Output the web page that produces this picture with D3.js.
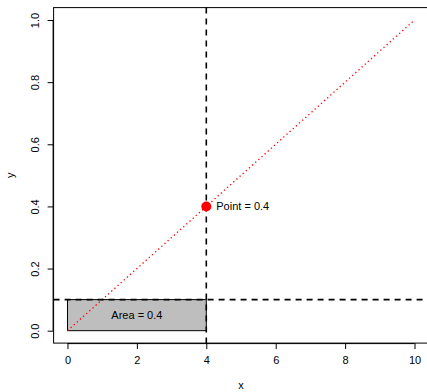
<!DOCTYPE html>
<html>
<head>
<meta charset="utf-8">
<script src="https://cdn.jsdelivr.net/npm/d3@7"></script>
<style>
  body { margin: 0; background: #fff; }
  text { font-family: "Liberation Sans", Arial, sans-serif; }
</style>
</head>
<body>
<svg id="chart" width="427" height="392"></svg>
<script>
// data
var xTicks = [0, 2, 4, 6, 8, 10];
var yTicks = [0, 0.2, 0.4, 0.6, 0.8, 1.0];
var diagLine = [[0, 0], [10, 1]];
var areaRect = {x0: 0, x1: 4, y0: 0, y1: 0.1, label: "Area = 0.4"};
var pointVal = {x: 4, y: 0.4, label: "Point = 0.4"};
var hLineY = 0.1;
var vLineX = 4;

var svg = d3.select("#chart");

// R style 4% axis expansion
var x = d3.scaleLinear().domain([-0.4, 10.4]).range([53.6, 428.4]);
var y = d3.scaleLinear().domain([-0.04, 1.04]).range([343.1, 7.6]);

// rectangle (area)
svg.append("rect")
    .attr("x", x(areaRect.x0))
    .attr("y", y(areaRect.y1))
    .attr("width", x(areaRect.x1) - x(areaRect.x0))
    .attr("height", y(areaRect.y0) - y(areaRect.y1))
    .attr("fill", "#bebebe")
    .attr("stroke", "#000")
    .attr("stroke-width", 1);

svg.append("text")
    .attr("x", x((areaRect.x0 + areaRect.x1) / 2))
    .attr("y", y((areaRect.y0 + areaRect.y1) / 2))
    .attr("dy", "0.35em")
    .attr("text-anchor", "middle")
    .style("font-size", "11px")
    .text(areaRect.label);

// diagonal dotted red line
svg.append("line")
    .attr("x1", x(diagLine[0][0])).attr("y1", y(diagLine[0][1]))
    .attr("x2", x(diagLine[1][0])).attr("y2", y(diagLine[1][1]))
    .attr("stroke", "red")
    .attr("stroke-width", 1.3)
    .attr("stroke-dasharray", "1.3,2.9");

// dashed reference lines
svg.append("line")
    .attr("x1", x.range()[0]).attr("x2", x.range()[1])
    .attr("y1", y(hLineY)).attr("y2", y(hLineY))
    .attr("stroke", "#000")
    .attr("stroke-width", 1.6)
    .attr("stroke-dasharray", "6,5");

svg.append("line")
    .attr("x1", x(vLineX)).attr("x2", x(vLineX))
    .attr("y1", y.range()[1]).attr("y2", y.range()[0])
    .attr("stroke", "#000")
    .attr("stroke-width", 1.6)
    .attr("stroke-dasharray", "6,5");

// point
svg.append("circle")
    .attr("cx", x(pointVal.x))
    .attr("cy", y(pointVal.y))
    .attr("r", 5)
    .attr("fill", "red");

svg.append("text")
    .attr("x", x(pointVal.x) + 10)
    .attr("y", y(pointVal.y))
    .attr("dy", "0.35em")
    .style("font-size", "11px")
    .text(pointVal.label);

// box
svg.append("rect")
    .attr("x", x.range()[0])
    .attr("y", y.range()[1])
    .attr("width", x.range()[1] - x.range()[0])
    .attr("height", y.range()[0] - y.range()[1])
    .attr("fill", "none")
    .attr("stroke", "#000");

// x axis
var xAxis = svg.append("g")
    .attr("transform", "translate(0," + y.range()[0] + ")")
    .call(d3.axisBottom(x).tickValues(xTicks).tickSize(6).tickPadding(7).tickFormat(d3.format("d")));
xAxis.select(".domain").attr("d", "M" + x(xTicks[0]) + ",0.5H" + x(xTicks[xTicks.length - 1]));
xAxis.selectAll("text").style("font-size", "11px").attr("font-family", null);

// y axis
var yAxis = svg.append("g")
    .attr("transform", "translate(" + x.range()[0] + ",0)")
    .call(d3.axisLeft(y).tickValues(yTicks).tickSize(6).tickFormat(d3.format(".1f")));
yAxis.select(".domain").attr("d", "M-0.5," + y(yTicks[0]) + "V" + y(yTicks[yTicks.length - 1]));
yAxis.selectAll(".tick text")
    .attr("x", null).attr("dy", null)
    .attr("transform", "translate(-18,0) rotate(-90)")
    .attr("text-anchor", "middle")
    .attr("dy", "0.35em")
    .style("font-size", "11px")
    .attr("font-family", null);

// axis titles
svg.append("text")
    .attr("x", (x.range()[0] + x.range()[1]) / 2)
    .attr("y", 385)
    .attr("dy", "0.35em")
    .attr("text-anchor", "middle")
    .style("font-size", "11px")
    .text("x");

svg.append("text")
    .attr("transform", "translate(10," + ((y.range()[0] + y.range()[1]) / 2) + ") rotate(-90)")
    .attr("dy", "0.35em")
    .attr("text-anchor", "middle")
    .style("font-size", "11px")
    .text("y");
</script>
</body>
</html>
